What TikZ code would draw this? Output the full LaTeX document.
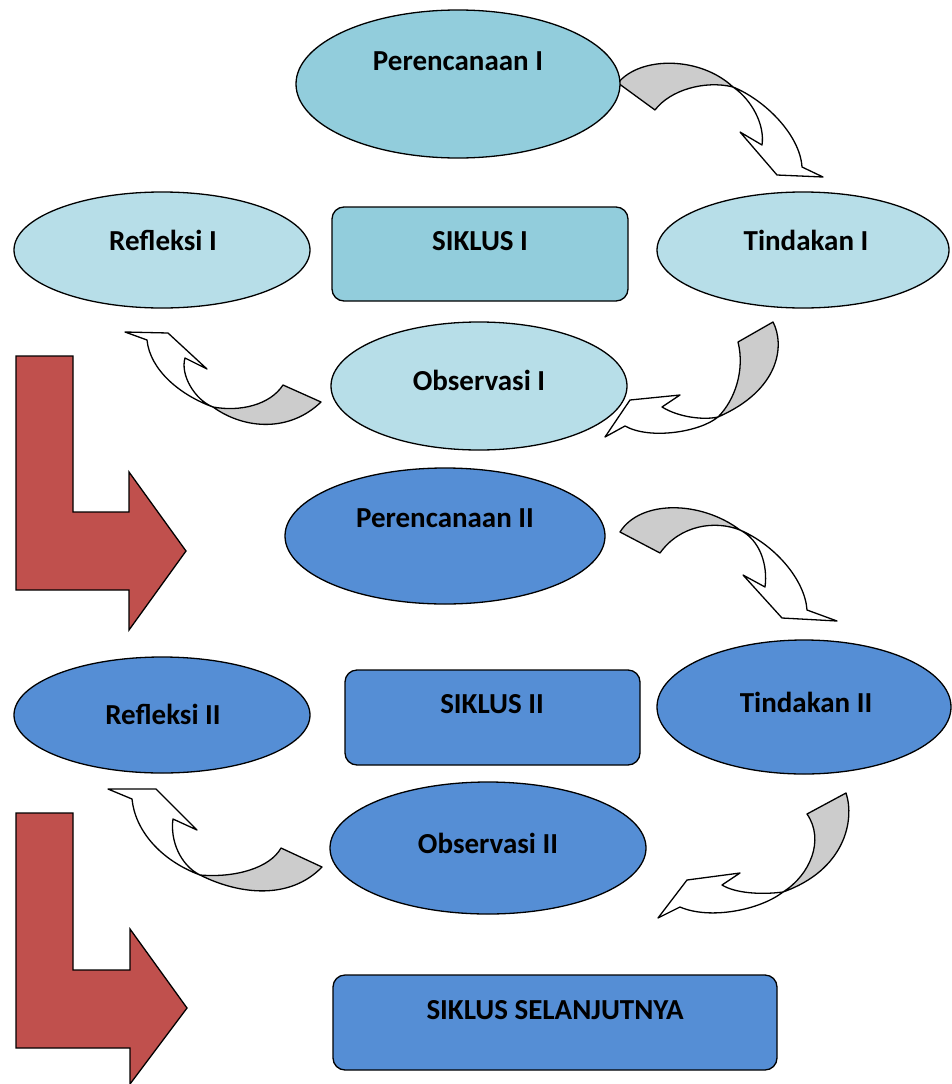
\documentclass[tikz,border=0pt]{standalone}
\usepackage{fontspec}
\setmainfont{Carlito}
\usetikzlibrary{shapes.geometric}
\definecolor{cyanA}{HTML}{92CDDC}
\definecolor{cyanB}{HTML}{B7DEE8}
\definecolor{blueB}{HTML}{558ED5}
\definecolor{redA}{HTML}{C0504D}
\definecolor{grayA}{HTML}{CCCCCC}
\tikzset{
  ell/.style={ellipse, draw=black, line width=1.3pt, inner sep=0pt},
  rbox/.style={rectangle, rounded corners=12pt, draw=black, line width=1.3pt, inner sep=0pt},
  lbl/.style={anchor=base, font=\fontsize{29}{34}\selectfont\bfseries, inner sep=0pt},
  twistg/.style={fill=grayA, draw=black, line width=1.3pt, line join=round},
  twistw/.style={fill=white, draw=black, line width=1.3pt, line join=round},
  bigarrow/.style={fill=redA, draw=black, line width=1.3pt, line join=miter}
}
\begin{document}
\begin{tikzpicture}[x=1pt,y=-1pt]
\useasboundingbox (0,0) rectangle (952,1084);
% curved arrows
% A: Perencanaan I -> Tindakan I
\draw[twistg] (618,83) .. controls (640,56) and (700,56) .. (733,87) .. controls (705,80) and (670,90) .. (655,110) -- cycle;
\draw[twistw] (733,87) .. controls (765,100) and (800,135) .. (802,167) -- (823,177) -- (777,175) -- (740,132) -- (762,145) .. controls (765,125) and (752,100) .. (733,87) -- cycle;
% B: Tindakan I -> Observasi I
\draw[twistg] (773,322) .. controls (785,345) and (780,390) .. (718,417) .. controls (735,400) and (745,370) .. (738,342) -- cycle;
\draw[twistw] (718,417) .. controls (700,432) and (650,440) .. (625,426) -- (605,437) -- (630,400) -- (680,395) -- (662,407) .. controls (680,418) and (705,420) .. (718,417) -- cycle;
% C: Observasi I -> Refleksi I
\draw[twistg] (283,385) .. controls (270,405) and (240,412) .. (213,407) .. controls (245,430) and (290,432) .. (321,402) -- cycle;
\draw[twistw] (213,407) .. controls (180,395) and (150,370) .. (147,340) -- (125,332) -- (168,333) -- (207,369) -- (185,358) .. controls (180,375) and (195,400) .. (213,407) -- cycle;
% D: Perencanaan II -> Tindakan II
\draw[twistg] (620,532) .. controls (640,500) and (700,500) .. (740,530) .. controls (715,520) and (680,525) .. (660,553) -- cycle;
\draw[twistw] (740,530) .. controls (775,545) and (805,580) .. (807,610) -- (837,621) -- (782,618) -- (743,575) -- (765,587) .. controls (768,565) and (760,540) .. (740,530) -- cycle;
% E: Tindakan II -> Observasi II
\draw[twistg] (846,793) .. controls (855,820) and (845,870) .. (783,892) .. controls (810,875) and (825,840) .. (807,814) -- cycle;
\draw[twistw] (783,892) .. controls (760,910) and (710,920) .. (680,907) -- (658,918) -- (687,880) -- (740,873) -- (722,885) .. controls (735,893) and (760,895) .. (783,892) -- cycle;
% F: Observasi II -> Refleksi II
\draw[twistg] (281,848) .. controls (270,868) and (235,878) .. (200,875) .. controls (240,895) and (290,900) .. (322,867) -- cycle;
\draw[twistw] (200,875) .. controls (160,860) and (135,830) .. (132,799) -- (108,789) -- (156,789) -- (197,830) -- (173,819) .. controls (170,840) and (180,865) .. (200,875) -- cycle;
% red bent arrows
\draw[bigarrow] (16,356) -- (73,356) -- (73,512) -- (129,512) -- (129,472) -- (186,551) -- (129,630) -- (129,590) -- (16,590) -- cycle;
\draw[bigarrow] (16,813) -- (73,813) -- (73,970) -- (130,970) -- (130,929) -- (187,1008) -- (130,1084) -- (130,1048) -- (16,1048) -- cycle;
% shapes
\node[ell, fill=cyanA, minimum width=324pt, minimum height=148pt] (p1) at (458,84) {};
\node[ell, fill=cyanB, minimum width=292pt, minimum height=116pt] (t1) at (803,250) {};
\node[ell, fill=cyanB, minimum width=296pt, minimum height=116pt] (r1) at (162,250) {};
\node[rbox, fill=cyanA, minimum width=296pt, minimum height=94pt] (s1) at (480,254) {};
\node[ell, fill=cyanB, minimum width=296pt, minimum height=128pt] (o1) at (479,386) {};
\node[ell, fill=blueB, minimum width=320pt, minimum height=136pt] (p2) at (445,536) {};
\node[ell, fill=blueB, minimum width=294pt, minimum height=134pt] (t2) at (804,707) {};
\node[ell, fill=blueB, minimum width=296pt, minimum height=116pt] (r2) at (162,715) {};
\node[rbox, fill=blueB, minimum width=295pt, minimum height=95pt] (s2) at (492.5,717.5) {};
\node[ell, fill=blueB, minimum width=316pt, minimum height=132pt] (o2) at (488,848) {};
\node[rbox, fill=blueB, minimum width=444pt, minimum height=95pt] (s3) at (555,1022.5) {};
% labels
\node[lbl] (lp1) at (458,70) {Perencanaan I};
\node[lbl] (lt1) at (806,250) {Tindakan I};
\node[lbl] (lr1) at (163,250) {Refleksi I};
\node[lbl] (ls1) at (480,250) {SIKLUS I};
\node[lbl] (lo1) at (479,390) {Observasi I};
\node[lbl] (lp2) at (445,527) {Perencanaan II};
\node[lbl] (lt2) at (806,712) {Tindakan II};
\node[lbl] (ls2) at (492,713) {SIKLUS II};
\node[lbl] (lr2) at (163,724) {Refleksi II};
\node[lbl] (lo2) at (488,853) {Observasi II};
\node[lbl] (ls3) at (555,1019) {SIKLUS SELANJUTNYA};
\end{tikzpicture}
\end{document}
